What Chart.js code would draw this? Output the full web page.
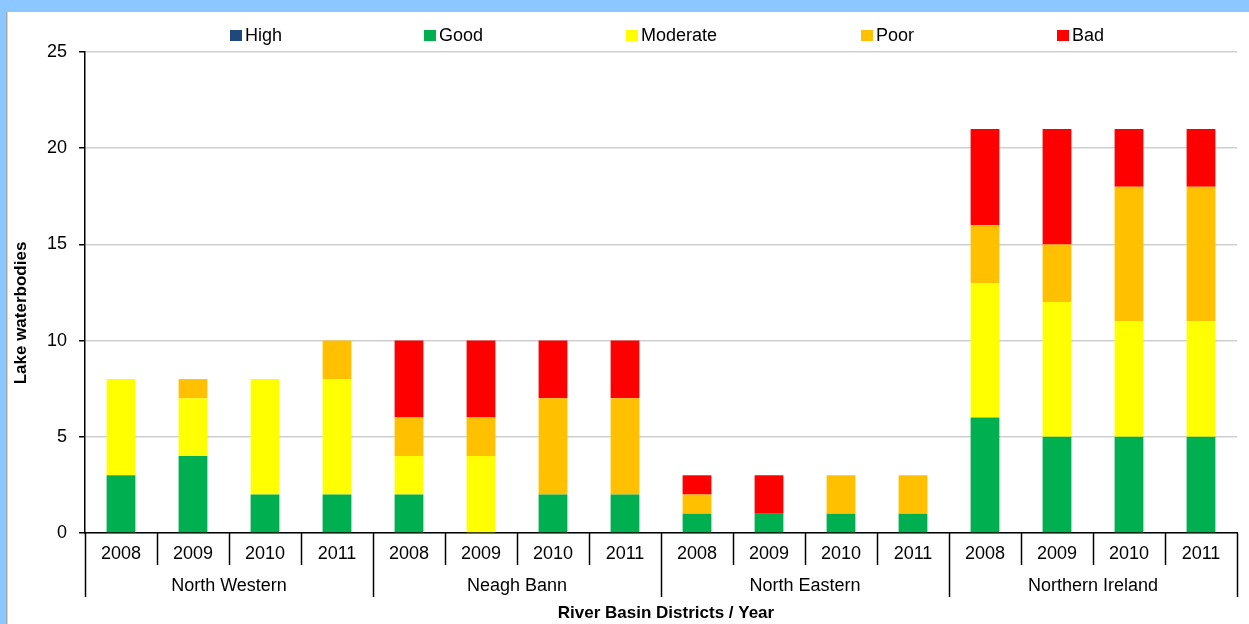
<!DOCTYPE html>
<html>
<head>
<meta charset="utf-8">
<script src="https://cdn.jsdelivr.net/npm/chart.js@4"></script>
<style>
  html, body { margin: 0; padding: 0; background: #8CC8FF; }
  #wrap { position: absolute; left: 0; top: 0; width: 1249px; height: 624px; }
</style>
</head>
<body>
<div id="wrap"><canvas id="chart" width="1249" height="624"></canvas></div>
<script>
// River basin districts and assessment years
const districts = ['North Western', 'Neagh Bann', 'North Eastern', 'Northern Ireland'];
const years = ['2008', '2009', '2010', '2011'];

// Number of lake waterbodies in each status class, per district/year
const high     = [0, 0, 0, 0,  0, 0, 0, 0,  0, 0, 0, 0,  0, 0, 0, 0];
const good     = [3, 4, 2, 2,  2, 0, 2, 2,  1, 1, 1, 1,  6, 5, 5, 5];
const moderate = [5, 3, 6, 6,  2, 4, 0, 0,  0, 0, 0, 0,  7, 7, 6, 6];
const poor     = [0, 1, 0, 2,  2, 2, 5, 5,  1, 0, 2, 2,  3, 3, 7, 7];
const bad      = [0, 0, 0, 0,  4, 4, 3, 3,  1, 2, 0, 0,  5, 6, 3, 3];

const yTicks = [0, 5, 10, 15, 20, 25];

const categories = [];
districts.forEach(d => years.forEach(y => categories.push(d + ' ' + y)));

const FONT = '"Liberation Sans", Arial, sans-serif';

const seriesDefs = [
  { label: 'High', data: high, color: '#1F497D' },
  { label: 'Good', data: good, color: '#00B050' },
  { label: 'Moderate', data: moderate, color: '#FFFF00' },
  { label: 'Poor', data: poor, color: '#FFC000' },
  { label: 'Bad', data: bad, color: '#FF0000' }
];

// Frame, grouped category axis, axis titles and legend
const decorations = {
  id: 'decorations',
  beforeDraw(chart) {
    const c = chart.ctx;
    c.save();
    c.fillStyle = '#8CC8FF';
    c.fillRect(0, 0, chart.width, chart.height);
    c.fillStyle = '#FFFFFF';
    c.fillRect(7, 12, chart.width - 7, chart.height - 12);
    c.fillStyle = '#A8A8A8';
    c.fillRect(6, 12, 1.5, chart.height - 12);
    c.restore();
  },
  afterDraw(chart) {
    const c = chart.ctx;
    const xs = chart.scales.x;
    const area = chart.chartArea;
    const step = xs.getPixelForValue(1) - xs.getPixelForValue(0);
    const base = area.bottom;
    c.save();
    c.strokeStyle = '#000000';
    c.lineWidth = 1.5;
    c.fillStyle = '#000000';

    // category boundary ticks
    for (let i = 0; i <= categories.length; i++) {
      const x = Math.round(xs.getPixelForValue(0) - step / 2 + i * step) + 0.5;
      const len = (i % years.length === 0) ? 64 : 32;
      c.beginPath();
      c.moveTo(x, base);
      c.lineTo(x, base + len);
      c.stroke();
    }

    // year labels
    c.font = '18px ' + FONT;
    c.textAlign = 'center';
    c.textBaseline = 'middle';
    categories.forEach((_, i) => {
      c.fillText(years[i % years.length], xs.getPixelForValue(i), base + 21);
    });

    // district labels
    districts.forEach((d, g) => {
      const first = xs.getPixelForValue(g * years.length);
      const last = xs.getPixelForValue(g * years.length + years.length - 1);
      c.fillText(d, (first + last) / 2, base + 53);
    });

    // x-axis title
    c.font = 'bold 17px ' + FONT;
    c.fillText('River Basin Districts / Year', (area.left + area.right) / 2 + 5, 613);

    // y-axis title
    c.save();
    c.translate(21, 313);
    c.rotate(-Math.PI / 2);
    c.fillText('Lake waterbodies', 0, 0);
    c.restore();

    // legend
    const legendX = [245, 439, 641, 876, 1072];
    c.font = '18px ' + FONT;
    c.textAlign = 'left';
    c.textBaseline = 'alphabetic';
    seriesDefs.forEach((s, i) => {
      c.fillStyle = s.color;
      c.fillRect(legendX[i] - 15, 30, 12, 11);
      c.fillStyle = '#000000';
      c.fillText(s.label, legendX[i], 40.5);
    });
    c.restore();
  }
};

new Chart(document.getElementById('chart'), {
  type: 'bar',
  data: {
    labels: categories,
    datasets: seriesDefs.map(s => ({
      label: s.label,
      data: s.data,
      backgroundColor: s.color,
      borderWidth: 0,
      barPercentage: 0.4,
      categoryPercentage: 1.0
    }))
  },
  options: {
    responsive: false,
    animation: false,
    layout: { padding: { top: 52, bottom: 91, right: 12, left: 0 } },
    plugins: {
      legend: { display: false },
      title: { display: false },
      tooltip: { enabled: false }
    },
    scales: {
      x: {
        stacked: true,
        offset: true,
        afterFit(scale) { scale.height = 0; },
        ticks: { display: false },
        grid: { display: false },
        border: { display: true, color: '#000000', width: 1.5 }
      },
      y: {
        stacked: true,
        min: 0,
        max: 25,
        afterFit(scale) { scale.width = 85; },
        afterBuildTicks(scale) { scale.ticks = yTicks.map(v => ({ value: v })); },
        ticks: {
          color: '#000000',
          font: { family: FONT, size: 18 },
          padding: 12
        },
        grid: {
          color: '#CFCFCF',
          lineWidth: 1.5,
          tickColor: '#000000',
          tickLength: 6,
          drawTicks: true
        },
        border: { display: true, color: '#000000', width: 1.5 }
      }
    }
  },
  plugins: [decorations]
});
</script>
</body>
</html>
